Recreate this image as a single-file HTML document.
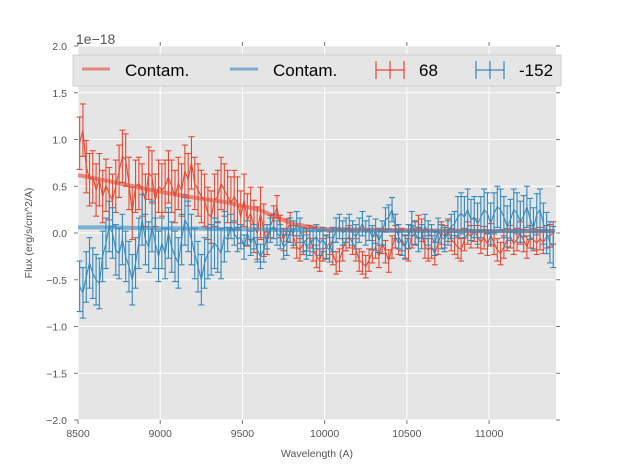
<!DOCTYPE html>
<html><head><meta charset="utf-8"><style>
body{margin:0;background:#fff;font-family:"Liberation Sans",sans-serif}
</style></head><body>
<svg id="chart" width="617" height="467" xmlns="http://www.w3.org/2000/svg" font-family="Liberation Sans, DejaVu Sans, sans-serif">
<rect x="0" y="0" width="617" height="467" fill="#fff"/>
<rect x="78" y="46" width="478" height="374" fill="#e5e5e5"/>
<g id="grid"></g><g id="ticks"></g><g id="series"></g>
<text x="76" y="44" font-size="14" fill="#555">1e−18</text>
<text x="317" y="457" font-size="10.5" fill="#555" text-anchor="middle">Wavelength (A)</text>
<text transform="translate(32,233) rotate(-90)" font-size="10.5" fill="#555" text-anchor="middle">Flux (erg/s/cm^2/A)</text>
<g>
<rect x="73" y="55" width="488" height="31" fill="#e5e5e5" stroke="#d0d0d0" stroke-width="1"/>
<g><line x1="82" y1="69" x2="110" y2="69" stroke="#E24A33" stroke-opacity="0.6" stroke-width="3"/><text x="125" y="76" font-size="17" fill="#000">Contam.</text></g>
<g><line x1="230" y1="69" x2="258" y2="69" stroke="#348ABD" stroke-opacity="0.6" stroke-width="3"/><text x="273" y="76" font-size="17" fill="#000">Contam.</text></g>
<g stroke="#E24A33" stroke-width="1.2"><line x1="376" y1="70" x2="404" y2="70"/><line x1="376" y1="61" x2="376" y2="79"/><line x1="404" y1="61" x2="404" y2="79"/><line x1="390" y1="61" x2="390" y2="79"/><text x="419" y="76" font-size="17" fill="#000" stroke="none">68</text></g>
<g stroke="#348ABD" stroke-width="1.2"><line x1="476" y1="70" x2="504" y2="70"/><line x1="476" y1="61" x2="476" y2="79"/><line x1="504" y1="61" x2="504" y2="79"/><line x1="490" y1="61" x2="490" y2="79"/><text x="519" y="76" font-size="17" fill="#000" stroke="none">-152</text></g>
</g>
</svg>
<script>
const xTicks=[8500,9000,9500,10000,10500,11000];
const yTicks=[-2.0,-1.5,-1.0,-0.5,0.0,0.5,1.0,1.5,2.0];
const yTickLabels=["−2.0","−1.5","−1.0","−0.5","0.0","0.5","1.0","1.5","2.0"];
const waveStart=8510, waveEnd=11390;
const redFlux=[0.96,1.10,0.71,0.57,0.60,0.46,0.57,0.39,0.51,0.42,0.35,0.50,0.66,0.82,0.78,0.53,0.21,0.50,0.53,0.46,0.35,0.64,0.60,0.35,0.50,0.46,0.50,0.60,0.50,0.39,0.53,0.46,0.66,0.57,0.75,0.53,0.46,0.39,0.35,0.21,0.17,0.35,0.39,0.53,0.46,0.39,0.32,0.39,
0.32,0.17,0.35,0.14,0.21,0.07,0.0,0.21,0.03,-0.11,0.07,0.17,0.28,0.07,-0.07,0.03,0.10,-0.04,-0.15,-0.18,-0.11,-0.07,-0.04,-0.18,-0.25,-0.29,-0.18,-0.15,-0.11,-0.22,-0.32,-0.29,-0.18,-0.07,-0.04,-0.11,-0.18,-0.29,-0.32,-0.36,-0.29,-0.2,-0.15,-0.25,-0.1,-0.2,-0.3,-0.15,
-0.04,-0.11,-0.07,-0.15,-0.18,-0.04,0.0,0.07,0.03,-0.15,-0.18,-0.15,-0.22,-0.11,0.0,-0.04,0.03,-0.07,-0.11,-0.15,-0.18,-0.07,0.0,-0.04,0.03,-0.04,-0.1,-0.05,-0.12,-0.02,-0.11,-0.18,-0.22,-0.15,-0.07,-0.04,-0.11,-0.07,0.0,-0.08,-0.15,-0.04,-0.07,-0.11,-0.06,-0.1,-0.04,-0.03,0.0];
const blueFlux=[-0.57,-0.64,-0.47,-0.32,-0.43,-0.50,-0.54,-0.25,-0.11,0.07,0.0,-0.18,-0.22,-0.07,-0.25,-0.36,-0.50,-0.32,-0.11,0.14,-0.07,-0.15,0.07,-0.11,-0.25,-0.11,-0.22,0.0,-0.15,-0.25,-0.32,-0.07,0.14,0.07,-0.07,-0.22,-0.36,-0.50,-0.32,-0.22,-0.18,-0.11,-0.15,-0.22,-0.04,-0.07,0.07,0.0,
-0.07,-0.04,-0.15,0.0,-0.11,-0.04,-0.18,-0.25,-0.18,-0.04,0.03,0.07,0.0,-0.04,-0.15,-0.11,0.03,0.0,0.10,0.03,-0.07,-0.15,-0.11,-0.07,-0.04,-0.11,-0.07,-0.15,-0.18,-0.07,0.03,0.07,0.0,0.03,0.07,0.0,-0.04,0.03,0.1,0.0,0.05,-0.05,0.02,-0.08,0.0,0.14,0.17,0.25,
0.07,-0.04,-0.11,-0.15,-0.04,0.10,0.0,-0.07,-0.04,0.07,0.0,-0.04,-0.11,0.03,-0.04,-0.07,0.0,0.07,0.10,0.17,0.21,0.17,0.25,0.14,0.17,0.10,0.17,0.25,0.21,0.10,0.21,0.28,0.25,0.17,0.07,0.14,0.25,0.21,0.12,0.18,0.28,0.15,0.05,0.2,0.25,0.1,0.0,-0.1,-0.15];
const redErrRanges=[[8500,9650,0.28],[9650,11400,0.12]];
const blueErrRanges=[[8500,9400,0.27],[9400,10800,0.13],[10800,11400,0.22]];
const contamWave=[8500,8700,9000,9200,9400,9600,9800,10000,10500,11000,11400];
const redContam=[0.62,0.55,0.44,0.38,0.33,0.25,0.10,0.04,0.03,0.02,0.02];
const blueContam=[0.06,0.06,0.05,0.05,0.04,0.04,0.03,0.03,0.02,0.02,0.02];

const X0=78,X1=556,Y0=46,Y1=420,XMIN=8500,XMAX=11407,YMIN=-2,YMAX=2;
const sx=v=>X0+(v-XMIN)/(XMAX-XMIN)*(X1-X0);
const sy=v=>Y1-(v-YMIN)/(YMAX-YMIN)*(Y1-Y0);
const NS="http://www.w3.org/2000/svg";
function mk(t,a,p){const e=document.createElementNS(NS,t);for(const k in a)e.setAttribute(k,a[k]);p.appendChild(e);return e;}
const grid=document.getElementById('grid'),ticks=document.getElementById('ticks'),ser=document.getElementById('series');
xTicks.forEach(t=>{const x=sx(t);
 const g=mk('line',{x1:x,x2:x,y1:Y0,y2:Y1,stroke:'#fff','stroke-width':1},grid);
 
 mk('line',{x1:x,x2:x,y1:Y1,y2:Y1+4,stroke:'#777'},ticks);mk('line',{x1:x,x2:x,y1:Y0,y2:Y0-4,stroke:'#777'},ticks);
 const l=mk('text',{x:x,y:Y1+17,'font-size':10.5,fill:'#555','text-anchor':'middle'},ticks);l.textContent=t;
 });
yTicks.forEach((t,i)=>{const y=sy(t);
 const g=mk('line',{x1:X0,x2:X1,y1:y,y2:y,stroke:'#fff','stroke-width':1},grid);
 
 mk('line',{x1:X0-4,x2:X0,y1:y,y2:y,stroke:'#777'},ticks);mk('line',{x1:X1,x2:X1+4,y1:y,y2:y,stroke:'#777'},ticks);
 const l=mk('text',{x:X0-11,y:y+4,'font-size':10.5,fill:'#555','text-anchor':'end'},ticks);l.textContent=yTickLabels[i];
 });
function errFor(r,w){for(const q of r)if(w>=q[0]&&w<q[1])return q[2];return r[r.length-1][2];}
function contam(vals,color,name){
 const p=mk('polyline',{points:contamWave.map((w,i)=>sx(w)+','+sy(vals[i])).join(' '),fill:'none',stroke:color,'stroke-opacity':0.6,'stroke-width':4,'stroke-linejoin':'round'},ser);
 }
function errSeries(vals,ranges,color,name){
 const g=mk('g',{stroke:color,'stroke-width':1.1,fill:'none'},ser);
 
 const n=vals.length,pts=[];
 vals.forEach((v,i)=>{const w=waveStart+i*(waveEnd-waveStart)/(n-1);const e=errFor(ranges,w);const x=sx(w);
  pts.push(x+','+sy(v));
  mk('line',{x1:x,x2:x,y1:sy(v-e),y2:sy(v+e)},g);
  mk('line',{x1:x-3,x2:x+3,y1:sy(v-e),y2:sy(v-e)},g);
  mk('line',{x1:x-3,x2:x+3,y1:sy(v+e),y2:sy(v+e)},g);});
 mk('polyline',{points:pts.join(' ')},g);}
errSeries(redFlux,redErrRanges,'#E24A33','series-68');
errSeries(blueFlux,blueErrRanges,'#348ABD','series-minus-152');
contam(redContam,'#E24A33','contam-line-68');
contam(blueContam,'#348ABD','contam-line-152');
</script>
</body></html>
